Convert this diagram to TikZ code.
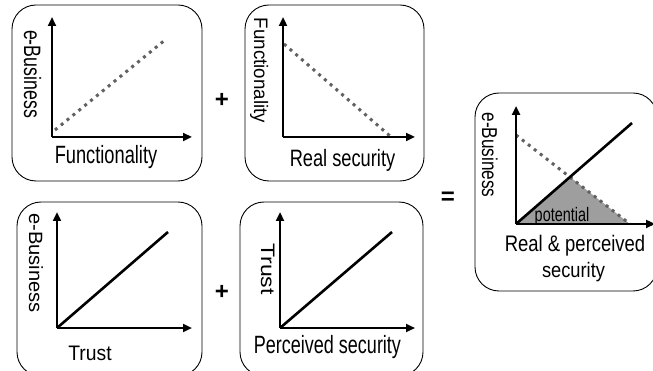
\documentclass[tikz,border=0pt]{standalone}
\usepackage{fontspec}
\setmainfont{Liberation Sans}
\usetikzlibrary{arrows.meta}
\newcommand\tx[3]{\scalebox{#1}[1]{\fontsize{#2}{#2}\selectfont #3}}
\begin{document}
\begin{tikzpicture}[x=1pt,y=-1pt,
  panel/.style={draw=black,line width=0.9pt,rounded corners=24pt},
  axis/.style={line width=2.6pt,-{Triangle[length=9pt,width=8pt]}},
  dotline/.style={draw=black!62,line width=3pt,dash pattern=on 3pt off 4.6pt},
  solidline/.style={draw=black,line width=2.6pt},
  lab/.style={inner sep=0pt,anchor=base},
  vlab/.style={lab,rotate=-90},
  op/.style={font=\fontsize{24}{24}\selectfont\bfseries,inner sep=0pt}]
\useasboundingbox (0,0) rectangle (653,371);
% panels
\draw[panel] (12,5) rectangle (202,181);
\draw[panel] (245,5) rectangle (424,181);
\draw[panel] (17,202) rectangle (202,376);
\draw[panel] (240,202) rectangle (423,376);
\draw[panel] (475,93) rectangle (657,291);
% panel 1
\coordinate (o1) at (52,137);
\coordinate (y1) at (52,17);
\coordinate (x1) at (192,137);
\draw[dotline] (55,130) -- (165,40);
\draw[axis] (o1) -- (y1);
\draw[axis] (o1) -- (x1);
\node[vlab] (l1y) at (24,74) {\tx{0.75}{23.7}{e-Business}};
\node[lab] (l1x) at (106,164) {\tx{0.73}{25}{Functionality}};
% panel 2
\coordinate (o2) at (283,137);
\coordinate (y2) at (283,17);
\coordinate (x2) at (415,137);
\draw[dotline] (284,44) -- (390,136);
\draw[axis] (o2) -- (y2);
\draw[axis] (o2) -- (x2);
\node[vlab] (l2y) at (254,70.5) {\tx{0.96}{19.5}{Functionality}};
\node[lab] (l2x) at (342.5,167) {\tx{0.77}{23.7}{Real security}};
% panel 3
\coordinate (o3) at (57,328);
\coordinate (y3) at (57,212);
\coordinate (x3) at (192,328);
\draw[solidline] (o3) -- (168,232);
\draw[axis] (o3) -- (y3);
\draw[axis] (o3) -- (x3);
\node[vlab] (l3y) at (29,263) {\tx{1.05}{19.2}{e-Business}};
\node[lab] (l3x) at (90,360) {\tx{0.92}{21}{Trust}};
% panel 4
\coordinate (o4) at (280,328);
\coordinate (y4) at (280,212);
\coordinate (x4) at (415,328);
\draw[solidline] (o4) -- (392,232);
\draw[axis] (o4) -- (y4);
\draw[axis] (o4) -- (x4);
\node[vlab] (l4y) at (261,269) {\tx{1.18}{19.5}{Trust}};
\node[lab] (l4x) at (327.5,353) {\tx{0.72}{25}{Perceived security}};
% panel 5
\coordinate (o5) at (516,224);
\coordinate (y5) at (516,106);
\coordinate (x5) at (655,224);
\coordinate (ix) at (570,177);
\fill[black!38] (o5) -- (ix) -- (630,224) -- cycle;
\draw[dotline] (516,135) -- (630,224);
\draw[solidline] (o5) -- (632,123);
\draw[axis] (o5) -- (y5);
\draw[axis] (o5) -- (x5);
\node[vlab] (l5y) at (482,155) {\tx{0.8}{21.5}{e-Business}};
\node[lab] (pot) at (562,222) {\tx{0.74}{19.5}{potential}};
\node[lab] (l5x) at (575,252) {\tx{0.82}{22.5}{Real \& perceived}};
\node[lab] (l5s) at (573.5,278) {\tx{0.87}{21}{security}};
% operators
\node[op] (p1) at (222,100) {+};
\node[op] (p2) at (222,292) {+};
\node[op] (eq) at (448,198) {=};
\end{tikzpicture}
\end{document}
